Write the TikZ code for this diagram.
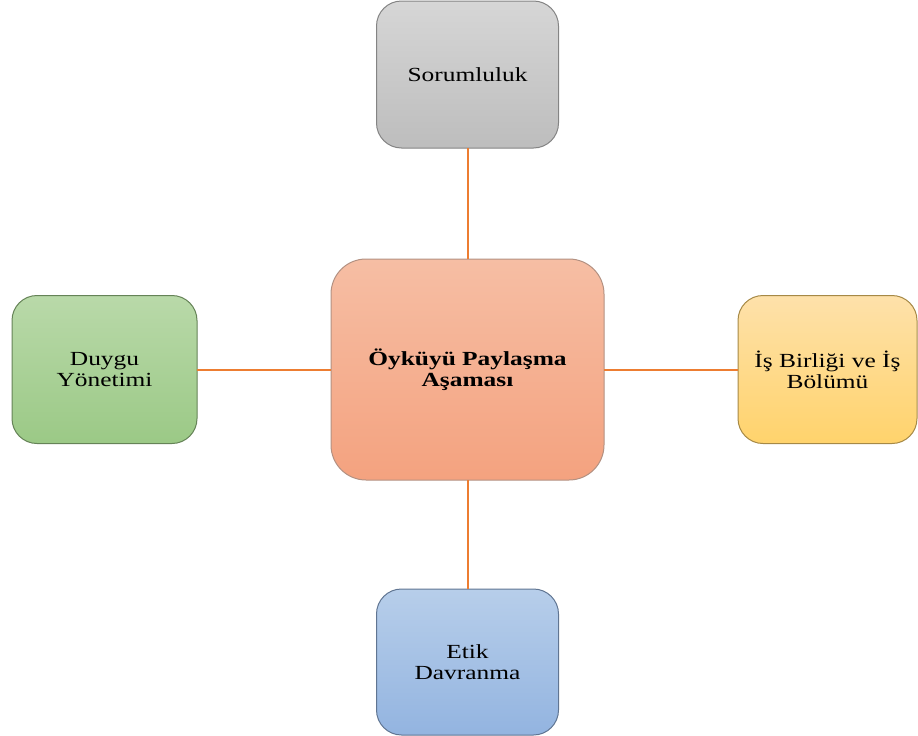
\documentclass[tikz,border=0pt]{standalone}
\usepackage{fontspec}
\setmainfont[FakeStretch=1.27]{Liberation Serif}
\usetikzlibrary{positioning}
\definecolor{ovtop}{HTML}{F6BEA4}
\definecolor{ovbot}{HTML}{F4A27F}
\definecolor{gytop}{HTML}{D6D6D6}
\definecolor{gybot}{HTML}{BDBDBD}
\definecolor{grtop}{HTML}{B9D9A9}
\definecolor{grbot}{HTML}{9BC986}
\definecolor{yltop}{HTML}{FEE1AA}
\definecolor{ylbot}{HTML}{FFD36C}
\definecolor{bltop}{HTML}{B7CEEA}
\definecolor{blbot}{HTML}{93B4E0}
\definecolor{spokeor}{HTML}{ED7D31}

\begin{document}
\begin{tikzpicture}[
  x=1pt, y=-1pt,
  box/.style={rounded corners=25pt, line width=1pt, outer sep=0pt,
    minimum width=182pt, minimum height=147pt, align=center,
    font=\fontsize{20}{21}\selectfont},
  spoke/.style={draw=spokeor, line width=2pt}
]
  \useasboundingbox (0,0) rectangle (918,736);

  \node[box, rounded corners=35pt, minimum width=273pt, minimum height=221pt,
    top color=ovtop, bottom color=ovbot, draw=ovbot!60!black!70,
    font=\fontsize{20}{21}\selectfont\bfseries] (story) at (467.5,369.5)
    {Öyküyü Paylaşma\\Aşaması};

  % Surrounding stages
  \node[box, top color=gytop, bottom color=gybot, draw=gybot!70!black,
    above=111pt of story] (duty) {Sorumluluk};
  \node[box, minimum width=185pt, minimum height=148pt,
    top color=grtop, bottom color=grbot, draw=grbot!65!black,
    left=134pt of story] (emotion) {Duygu\\Yönetimi};
  \node[box, minimum width=179pt, minimum height=148pt,
    top color=yltop, bottom color=ylbot, draw=ylbot!65!black,
    right=134pt of story] (teamwork) {İş Birliği ve İş\\Bölümü};
  \node[box, minimum height=146pt, top color=bltop, bottom color=blbot,
    draw=blbot!65!black, below=109pt of story] (ethics) {Etik\\Davranma};

  % Links
  \path[spoke] (story.north) -- (duty.south)
    (story.west) -- (emotion.east)
    (story.east) -- (teamwork.west)
    (story.south) -- (ethics.north);

\end{tikzpicture}
\end{document}
